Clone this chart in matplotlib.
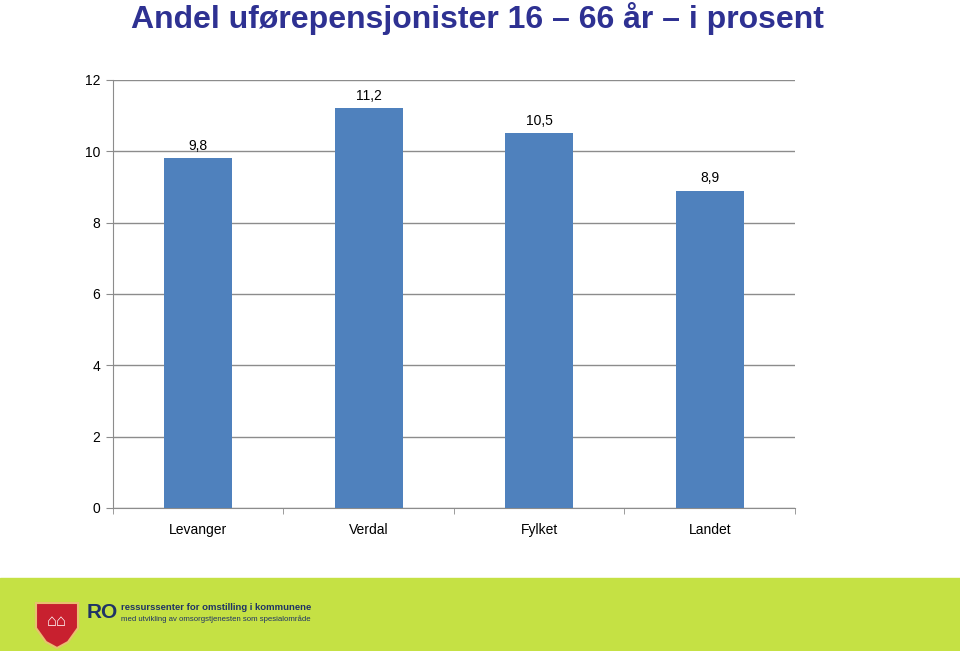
import matplotlib
matplotlib.use("Agg")
import matplotlib.pyplot as plt
from matplotlib.patches import Rectangle, Polygon

categories = ["Levanger", "Verdal", "Fylket", "Landet"]
values = [9.8, 11.2, 10.5, 8.9]
value_labels = ["9,8", "11,2", "10,5", "8,9"]
yticks = [0, 2, 4, 6, 8, 10, 12]

plt.rcParams['font.family'] = ['Liberation Sans', 'DejaVu Sans']

fig = plt.figure(figsize=(9.6, 6.51), dpi=100)
ax = fig.add_axes([0.1177, 0.2197, 0.7104, 0.6575])

x = range(len(categories))
bars = ax.bar(x, values, width=0.4, color="#4f81bd", zorder=3)
for xi, v, lab in zip(x, values, value_labels):
    ax.text(xi, v + 0.16, lab, ha="center", va="bottom", fontsize=10, color="black")

ax.set_xlim(-0.5, len(categories) - 0.5)
ax.set_ylim(0, 12)
ax.set_yticks(yticks)
ax.set_yticklabels([str(t) for t in yticks], fontsize=10)
ax.yaxis.grid(True, color="#8c8c8c", linewidth=1, zorder=0)
ax.set_xticks(list(x))
ax.set_xticklabels(categories, fontsize=10)
ax.set_xticks([i - 0.5 for i in range(len(categories) + 1)], minor=True)
ax.tick_params(axis="x", which="major", length=0, pad=11)
ax.tick_params(axis="x", which="minor", length=4, color="#8c8c8c")
ax.tick_params(axis="y", length=5, color="#8c8c8c", pad=4)
for s in ["top", "right"]:
    ax.spines[s].set_visible(False)
for s in ["left", "bottom"]:
    ax.spines[s].set_color("#8c8c8c")

fig.text(0.497, 0.972, "Andel uførepensjonister 16 – 66 år – i prosent",
         ha="center", va="center", fontsize=23, fontweight="bold", color="#2e3192")

# green footer band with logo
fig.patches.append(Rectangle((0, 0), 1, 73 / 651, transform=fig.transFigure,
                             color="#c5e144", zorder=0))
W, H = 960.0, 651.0
shield = [(36, 603), (78, 603), (78, 628), (68, 642), (57, 648), (46, 642), (36, 628)]
fig.patches.append(Polygon([(px / W, 1 - py / H) for px, py in shield], closed=True,
                           transform=fig.transFigure, facecolor="#c8202f",
                           edgecolor="#e8c070", linewidth=1.5, zorder=1))
fig.text(57 / W, 1 - 622 / H, "⌂⌂", ha="center", va="center", fontsize=12,
         color="white", fontweight="bold")
fig.text(87 / W, 1 - 613 / H, "RO", ha="left", va="center", fontsize=15,
         fontweight="bold", color="#1f3366")
fig.text(121 / W, 1 - 607 / H, "ressurssenter for omstilling i kommunene", ha="left",
         va="center", fontsize=6.8, fontweight="bold", color="#1f3366")
fig.text(121 / W, 1 - 619 / H, "med utvikling av omsorgstjenesten som spesialområde", ha="left",
         va="center", fontsize=5.6, color="#1f3366")

fig.savefig("out.png", dpi=100)
